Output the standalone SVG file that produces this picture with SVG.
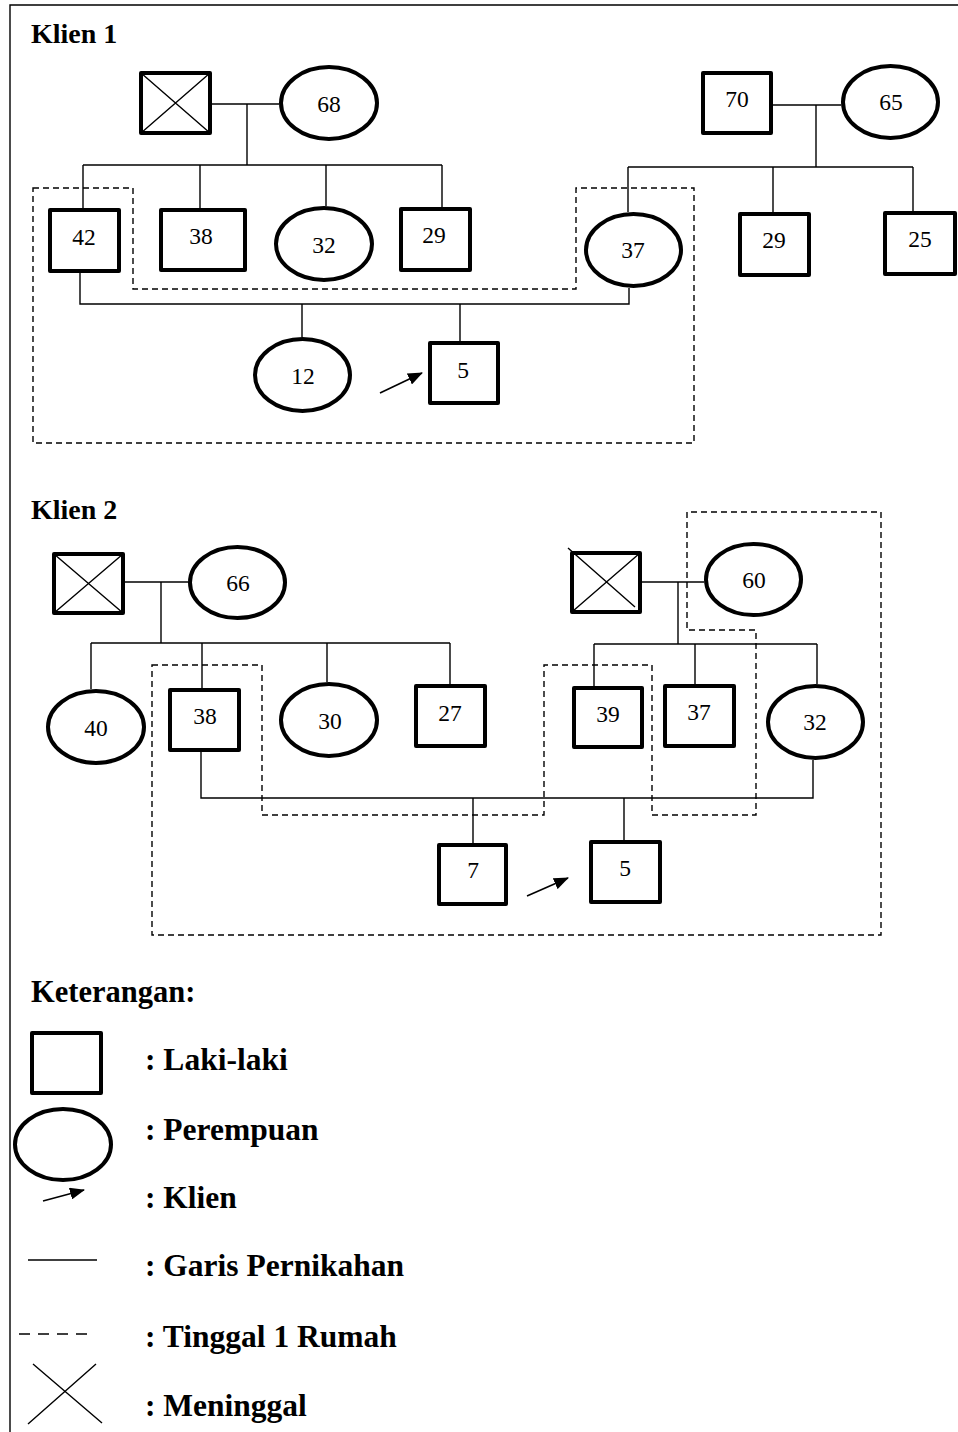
<svg xmlns="http://www.w3.org/2000/svg" width="958" height="1432" viewBox="0 0 958 1432">
  <defs>
    <marker id="arrowhead" markerUnits="userSpaceOnUse" markerWidth="16" markerHeight="12" refX="14" refY="6" orient="auto">
      <path d="M0,0 L15,6 L0,12 Z" fill="#000"/>
    </marker>
  </defs>
  <style>
    .male { fill: #fff; stroke: #000; stroke-width: 4; stroke-linejoin: round; }
    .female { fill: #fff; stroke: #000; stroke-width: 4; }
    .cross { stroke: #000; stroke-width: 1.4; fill: none; }
    .line { stroke: #000; stroke-width: 1.4; fill: none; }
    .house { stroke: #000; stroke-width: 1.4; fill: none; stroke-dasharray: 6 4; }
    .pointer { stroke: #000; stroke-width: 1.6; fill: none; marker-end: url(#arrowhead); }
    .age { font-family: "Liberation Serif", "Times New Roman", serif; font-size: 23.5px; fill: #000; text-anchor: middle; }
    .title { font-family: "Liberation Serif", "Times New Roman", serif; font-size: 28px; font-weight: bold; fill: #000; }
    .heading { font-family: "Liberation Serif", "Times New Roman", serif; font-size: 30.5px; font-weight: bold; fill: #000; }
    .key { font-family: "Liberation Serif", "Times New Roman", serif; font-size: 31.5px; font-weight: bold; fill: #000; }
  </style>
  <rect x="0" y="0" width="958" height="1432" fill="#fff"/>

  <!-- frame -->
  <path class="line" d="M10,1432 V5 H958"/>

  <!-- titles -->
  <text class="title" x="31" y="43">Klien 1</text>
  <text class="title" x="31" y="519">Klien 2</text>

  <!-- household boundaries -->
  <g id="households">
    <path class="house" d="M33,188 H133 V289 H576 V188 H694 V443 H33 Z"/>
    <path class="house" d="M152,665 H262 V815 H544 V665 H652 V815 H756 V630 H687 V512 H881 V935 H152 Z"/>
  </g>

  <!-- family lines -->
  <g id="connectors">
    <!-- client 1, paternal side -->
    <path class="line" d="M212,104 H279"/>
    <path class="line" d="M247,104 V165"/>
    <path class="line" d="M83,165 H442"/>
    <path class="line" d="M83,165 V208 M200,165 V208 M326,165 V206 M442,165 V207"/>
    <!-- client 1, maternal side -->
    <path class="line" d="M773,105 H841"/>
    <path class="line" d="M816,105 V167"/>
    <path class="line" d="M628,167 H913"/>
    <path class="line" d="M628,167 V212 M773,167 V213 M913,167 V212"/>
    <!-- client 1, parents and children -->
    <path class="line" d="M80,273 V304 H629 V288"/>
    <path class="line" d="M302,304 V337 M460,304 V341"/>
    <path class="pointer" d="M380,393 L422,373"/>

    <!-- client 2, paternal side -->
    <path class="line" d="M125,582 H188"/>
    <path class="line" d="M161,582 V643"/>
    <path class="line" d="M91,643 H450"/>
    <path class="line" d="M91,643 V689 M202,643 V688 M327,643 V682 M450,643 V684"/>
    <!-- client 2, maternal side -->
    <path class="line" d="M642,582 H704"/>
    <path class="line" d="M678,582 V644"/>
    <path class="line" d="M594,644 H817"/>
    <path class="line" d="M594,644 V686 M695,644 V684 M817,644 V684"/>
    <!-- client 2, parents and children -->
    <path class="line" d="M201,752 V798 H813 V760"/>
    <path class="line" d="M473,798 V843 M624,798 V840"/>
    <path class="pointer" d="M527,896 L568,878"/>
  </g>

  <!-- client 1 -->
  <g id="k1-grandfather-paternal">
    <rect class="male" x="141" y="73" width="69" height="60"/>
    <path class="cross" d="M141,73 L210,133 M210,73 L141,133"/>
  </g>
  <g id="k1-grandmother-paternal">
    <ellipse class="female" cx="329" cy="103" rx="48" ry="36"/>
    <text class="age" x="329" y="112">68</text>
  </g>
  <g id="k1-father">
    <rect class="male" x="50" y="210" width="69" height="61"/>
    <text class="age" x="84" y="245">42</text>
  </g>
  <g id="k1-uncle-38">
    <rect class="male" x="161" y="210" width="84" height="60"/>
    <text class="age" x="201" y="244">38</text>
  </g>
  <g id="k1-aunt-32">
    <ellipse class="female" cx="324" cy="244" rx="48" ry="36"/>
    <text class="age" x="324" y="253">32</text>
  </g>
  <g id="k1-uncle-29">
    <rect class="male" x="401" y="209" width="69" height="61"/>
    <text class="age" x="434" y="243">29</text>
  </g>
  <g id="k1-grandfather-maternal">
    <rect class="male" x="703" y="73" width="68" height="60"/>
    <text class="age" x="737" y="107">70</text>
  </g>
  <g id="k1-grandmother-maternal">
    <ellipse class="female" cx="890.5" cy="102" rx="47.5" ry="36"/>
    <text class="age" x="891" y="110">65</text>
  </g>
  <g id="k1-mother">
    <ellipse class="female" cx="633.5" cy="250" rx="47.5" ry="36"/>
    <text class="age" x="633" y="258">37</text>
  </g>
  <g id="k1-uncle-maternal-29">
    <rect class="male" x="740" y="214" width="69" height="61"/>
    <text class="age" x="774" y="248">29</text>
  </g>
  <g id="k1-uncle-maternal-25">
    <rect class="male" x="885" y="213" width="70" height="61"/>
    <text class="age" x="920" y="247">25</text>
  </g>
  <g id="k1-sister">
    <ellipse class="female" cx="302.5" cy="375" rx="47.5" ry="36"/>
    <text class="age" x="303" y="384">12</text>
  </g>
  <g id="k1-client">
    <rect class="male" x="430" y="343" width="68" height="60"/>
    <text class="age" x="463" y="378">5</text>
  </g>

  <!-- client 2 -->
  <g id="k2-grandfather-paternal">
    <rect class="male" x="54" y="554" width="69" height="59"/>
    <path class="cross" d="M54,554 L123,613 M123,554 L54,613"/>
  </g>
  <g id="k2-grandmother-paternal">
    <ellipse class="female" cx="237.5" cy="582.5" rx="47.5" ry="35.5"/>
    <text class="age" x="238" y="591">66</text>
  </g>
  <g id="k2-aunt-40">
    <ellipse class="female" cx="96" cy="727" rx="48" ry="36"/>
    <text class="age" x="96" y="736">40</text>
  </g>
  <g id="k2-father">
    <rect class="male" x="170" y="690" width="69" height="60"/>
    <text class="age" x="205" y="724">38</text>
  </g>
  <g id="k2-aunt-30">
    <ellipse class="female" cx="329" cy="720" rx="48" ry="36"/>
    <text class="age" x="330" y="729">30</text>
  </g>
  <g id="k2-uncle-27">
    <rect class="male" x="416" y="686" width="69" height="60"/>
    <text class="age" x="450" y="721">27</text>
  </g>
  <g id="k2-grandfather-maternal">
    <rect class="male" x="572" y="553" width="68" height="59"/>
    <path class="cross" d="M568,548 L635,607 M640,553 L573,611"/>
  </g>
  <g id="k2-grandmother-maternal">
    <ellipse class="female" cx="753.5" cy="579.5" rx="47.5" ry="35.5"/>
    <text class="age" x="754" y="588">60</text>
  </g>
  <g id="k2-uncle-39">
    <rect class="male" x="574" y="688" width="68" height="59"/>
    <text class="age" x="608" y="722">39</text>
  </g>
  <g id="k2-uncle-37">
    <rect class="male" x="665" y="686" width="69" height="60"/>
    <text class="age" x="699" y="720">37</text>
  </g>
  <g id="k2-mother">
    <ellipse class="female" cx="815.5" cy="722" rx="47.5" ry="36"/>
    <text class="age" x="815" y="730">32</text>
  </g>
  <g id="k2-brother">
    <rect class="male" x="439" y="845" width="67" height="59"/>
    <text class="age" x="473" y="878">7</text>
  </g>
  <g id="k2-client">
    <rect class="male" x="591" y="842" width="69" height="60"/>
    <text class="age" x="625" y="876">5</text>
  </g>

  <!-- key -->
  <g id="legend">
    <text class="heading" x="31" y="1002">Keterangan:</text>
    <rect class="male" x="32" y="1033" width="69" height="60"/>
    <text class="key" x="145" y="1070">: Laki-laki</text>
    <ellipse class="female" cx="63" cy="1144.5" rx="48" ry="35.5"/>
    <text class="key" x="145" y="1140">: Perempuan</text>
    <path class="pointer" d="M43,1201 L84,1190"/>
    <text class="key" x="145" y="1208">: Klien</text>
    <path class="line" d="M28,1260 H97"/>
    <text class="key" x="145" y="1276">: Garis Pernikahan</text>
    <path class="line" d="M19,1334 H87" stroke-dasharray="11 8"/>
    <text class="key" x="145" y="1347">: Tinggal 1 Rumah</text>
    <path class="line" d="M33,1364 L102,1423 M96,1364 L28,1424"/>
    <text class="key" x="145" y="1416">: Meninggal</text>
  </g>
</svg>
